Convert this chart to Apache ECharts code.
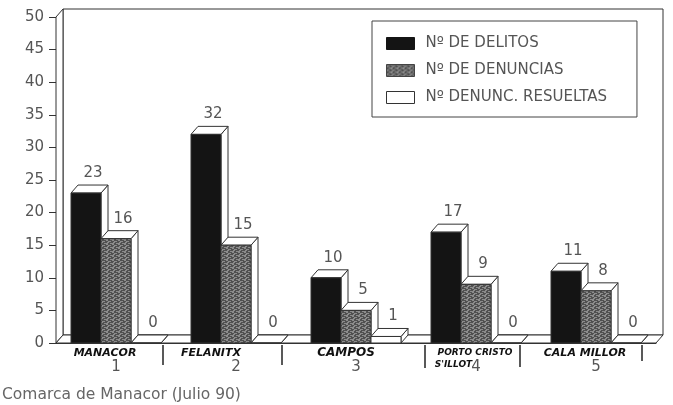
<!DOCTYPE html>
<html>
<head>
<meta charset="utf-8">
<style>
html,body{margin:0;padding:0;background:#fff;}
#main{width:673px;height:405px;filter:blur(0.5px);}
</style>
<script src="https://cdn.jsdelivr.net/npm/echarts@6/dist/echarts.min.js"></script>
</head>
<body>
<div id="main"></div>
<script>
var numbers = ['1', '2', '3', '4', '5'];
var places = ['MANACOR', 'FELANITX', 'CAMPOS', "PORTO CRISTO\nS'ILLOT", 'CALA MILLOR'];
var delitos = [23, 32, 10, 17, 11];
var denuncias = [16, 15, 5, 9, 8];
var resueltas = [0, 0, 1, 0, 0];
var y_ticks_max = 50;
var caption = 'Comarca de Manacor (Julio 90)';

var depth_x = 7, depth_y = 8;
var text_color = '#555';
var line_color = '#333';

// los rotulos a mano no van centrados en la categoria
var place_shift = [22, 50, 20, 2, 22];
var place_font = [11, 11, 12, 9, 11];

// trama gris de las denuncias
function make_hatch() {
    var c = document.createElement('canvas');
    c.width = 6;
    c.height = 4;
    var ctx = c.getContext('2d');
    ctx.fillStyle = '#8c8c8c';
    ctx.fillRect(0, 0, 6, 4);
    ctx.fillStyle = '#505050';
    ctx.fillRect(0, 0, 4, 1);
    ctx.fillRect(3, 1, 3, 1);
    ctx.fillRect(1, 2, 4, 1);
    ctx.fillRect(0, 3, 2, 1);
    return c;
}
var hatch = {image: make_hatch(), repeat: 'repeat'};

function box_item(params, api, slot, fill) {
    var band = api.size([1, 0])[0];
    var w = band / 4;
    var idx = api.value(0), val = api.value(1);
    var top = api.coord([idx, val]);
    var base = api.coord([idx, 0]);
    var x0 = top[0] + (slot - 1.5) * w;
    var x1 = x0 + w;
    var y0 = top[1], y1 = base[1];
    var edge = {stroke: line_color, lineWidth: 1};
    return {
        type: 'group',
        children: [
            {
                type: 'polygon',
                shape: {points: [[x1, y0], [x1 + depth_x, y0 - depth_y], [x1 + depth_x, y1 - depth_y], [x1, y1]]},
                style: {fill: '#fff', stroke: edge.stroke, lineWidth: edge.lineWidth}
            },
            {
                type: 'polygon',
                shape: {points: [[x0, y0], [x0 + depth_x, y0 - depth_y], [x1 + depth_x, y0 - depth_y], [x1, y0]]},
                style: {fill: '#fff', stroke: edge.stroke, lineWidth: edge.lineWidth}
            },
            {
                type: 'rect',
                shape: {x: x0, y: y0, width: w, height: y1 - y0},
                style: {fill: fill, stroke: edge.stroke, lineWidth: edge.lineWidth}
            },
            {
                type: 'text',
                style: {
                    x: (x0 + x1) / 2 + depth_x,
                    y: y0 - depth_y - 12,
                    text: String(val),
                    fill: text_color,
                    font: '15px "DejaVu Sans"',
                    align: 'center',
                    verticalAlign: 'middle'
                }
            }
        ]
    };
}

function bar_series(name, values, slot, fill, stroke) {
    return {
        name: name,
        type: 'custom',
        z: 3,
        clip: false,
        itemStyle: {color: fill, borderColor: stroke, borderWidth: 1},
        encode: {x: 0, y: 1},
        data: values.map(function (v, i) { return [i, v]; }),
        renderItem: function (params, api) {
            return box_item(params, api, slot, fill);
        }
    };
}

// paredes y suelo del grafico
function wall_item(params, api) {
    var band = api.size([1, 0])[0];
    var left = api.coord([0, 0])[0] - band / 2;
    var right = api.coord([numbers.length - 1, 0])[0] + band / 2;
    var y_base = api.coord([0, 0])[1];
    var y_top = api.coord([0, y_ticks_max])[1];
    var st = {fill: '#fff', stroke: line_color, lineWidth: 1};
    return {
        type: 'group',
        children: [
            {type: 'polygon', shape: {points: [[left + depth_x, y_top - depth_y], [right + depth_x, y_top - depth_y], [right + depth_x, y_base - depth_y], [left + depth_x, y_base - depth_y]]}, style: st},
            {type: 'polygon', shape: {points: [[left, y_top], [left + depth_x, y_top - depth_y], [left + depth_x, y_base - depth_y], [left, y_base]]}, style: st},
            {type: 'polygon', shape: {points: [[left, y_base], [left + depth_x, y_base - depth_y], [right + depth_x, y_base - depth_y], [right, y_base]]}, style: st}
        ]
    };
}

function place_styles() {
    var rich = {};
    places.forEach(function (p, i) {
        var base = {color: '#111', fontSize: place_font[i], fontWeight: 'bold', fontStyle: 'italic', fontFamily: 'DejaVu Sans', lineHeight: 12};
        rich['p' + i] = echarts.util.extend({padding: [0, place_shift[i], 0, 0]}, base);
        rich['q' + i] = echarts.util.extend({padding: [0, 45, 0, 0]}, base);
    });
    return rich;
}

var separators = [[163, 345, 365], [282, 345, 365], [425, 345, 368], [520, 345, 367], [642, 345, 361]];

var my_chart = echarts.init(document.getElementById('main'));
var option = {
    backgroundColor: '#fff',
    animation: false,
    title: {
        text: caption,
        left: 2,
        top: 387,
        padding: 0,
        textStyle: {color: '#666', fontSize: 15.5, fontWeight: 'normal', fontFamily: 'DejaVu Sans'}
    },
    legend: {
        data: [
            {name: 'Nº DE DELITOS'},
            {name: 'Nº DE DENUNCIAS'},
            {name: 'Nº DENUNC. RESUELTAS'}
        ],
        orient: 'vertical',
        left: 372,
        top: 21,
        icon: 'rect',
        itemWidth: 28,
        itemHeight: 12,
        itemGap: 12,
        padding: [15, 30, 12, 14],
        borderColor: '#444',
        borderWidth: 1,
        backgroundColor: '#fff',
        z: 5,
        itemStyle: {borderWidth: 1},
        textStyle: {color: text_color, fontSize: 15, fontFamily: 'DejaVu Sans', padding: [0, 0, 0, 6]}
    },
    grid: {left: 56, right: 17, top: 17, bottom: 62},
    xAxis: [
        {
            type: 'category',
            data: numbers,
            axisLine: {lineStyle: {color: line_color}},
            axisTick: {alignWithLabel: true, length: 4, lineStyle: {color: line_color}},
            axisLabel: {color: text_color, fontSize: 15, fontFamily: 'DejaVu Sans', margin: 17}
        },
        {
            type: 'category',
            position: 'bottom',
            data: places,
            axisLine: {show: false},
            axisTick: {show: false},
            axisLabel: {
                margin: 4,
                interval: 0,
                formatter: function (value, index) {
                    var parts = value.split('\n');
                    return parts.length > 1 ? '{p' + index + '|' + parts[0] + '}\n{q' + index + '|' + parts[1] + '}' : '{p' + index + '|' + value + '}';
                },
                rich: place_styles()
            }
        }
    ],
    yAxis: {
        type: 'value',
        min: 0,
        max: y_ticks_max,
        interval: 5,
        splitLine: {show: false},
        axisLine: {show: true, lineStyle: {color: line_color}},
        axisTick: {show: true, length: 7, lineStyle: {color: line_color}},
        axisLabel: {color: text_color, fontSize: 15, fontFamily: 'DejaVu Sans', margin: 12}
    },
    graphic: separators.map(function (s) {
        return {
            type: 'line',
            z: 6,
            shape: {x1: s[0], y1: s[1], x2: s[0], y2: s[2]},
            style: {stroke: '#222', lineWidth: 1.5}
        };
    }),
    series: [
        {
            type: 'custom',
            name: 'paredes',
            z: 1,
            clip: false,
            data: [[0, 0]],
            encode: {x: 0, y: 1},
            renderItem: wall_item
        },
        bar_series('Nº DE DELITOS', delitos, 0, '#141414', '#141414'),
        bar_series('Nº DE DENUNCIAS', denuncias, 1, hatch, '#444'),
        bar_series('Nº DENUNC. RESUELTAS', resueltas, 2, '#fff', line_color)
    ]
};
my_chart.setOption(option);
</script>
</body>
</html>
